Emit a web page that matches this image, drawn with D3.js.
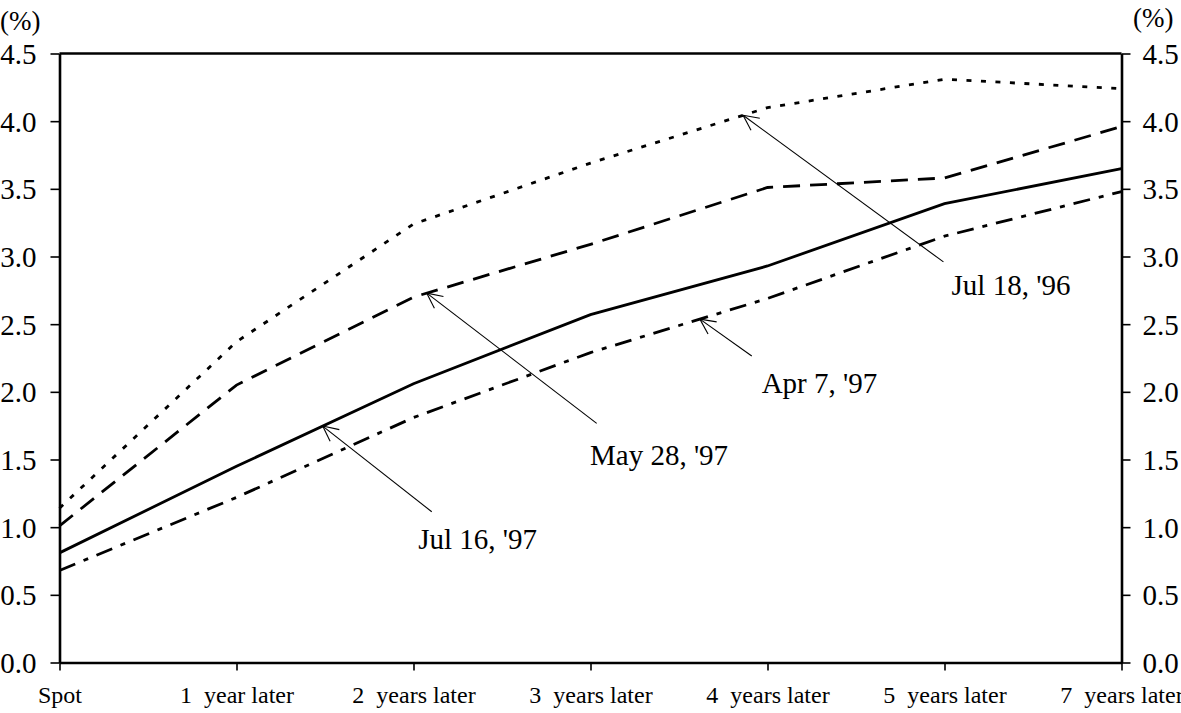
<!DOCTYPE html>
<html>
<head>
<meta charset="utf-8">
<script src="https://cdn.jsdelivr.net/npm/d3@7"></script>
<style>
  body { margin: 0; background: #fff; }
  text { font-family: "Liberation Serif", "Times New Roman", serif; fill: #000; }
</style>
</head>
<body>
<div id="chart"></div>
<script>
// categories along the x axis
const categories = ["Spot", "1  year later", "2  years later", "3  years later", "4  years later", "5  years later", "7  years later"]
const yTicks = [0, 0.5, 1.0, 1.5, 2.0, 2.5, 3.0, 3.5, 4.0, 4.5]

// forward rates (%)
const jul18_96 = [1.14, 2.37, 3.24, 3.69, 4.10, 4.31, 4.24]
const may28_97 = [1.01, 2.05, 2.70, 3.09, 3.51, 3.58, 3.96]
const jul16_97 = [0.81, 1.45, 2.06, 2.57, 2.93, 3.39, 3.65]
const apr7_97  = [0.68, 1.22, 1.81, 2.29, 2.69, 3.15, 3.48]

const seriesNames = ["Jul 18, '96", "May 28, '97", "Jul 16, '97", "Apr 7, '97"]
const seriesValues = [jul18_96, may28_97, jul16_97, apr7_97]
const seriesDash = ["5,9.5", "17,10", null, "17,9,5,9"]

// annotation: tip = index along series, tail/label in [index, value]
const annTip   = [3.862, 2.075, 1.487, 3.618]
const annTail  = [[4.994, 2.96], [3.035, 1.767], [2.103, 1.114], [3.911, 2.265]]
const annLabel = [[5.04, 2.716], [2.997, 1.459], [2.027, 0.836], [3.967, 1.989]]

const W = 1181, H = 713
const margin = { top: 53.5, right: 59.5, bottom: 50.5, left: 59.5 }
const width = W - margin.left - margin.right
const height = H - margin.top - margin.bottom

var svg = d3.select("#chart").append("svg")
      .attr("width", W)
      .attr("height", H)

var g = svg.append("g")
      .attr("transform", "translate(" + margin.left + "," + margin.top + ")")

const xScale = d3.scaleLinear().domain([0, categories.length - 1]).range([0, width])
const yScale = d3.scaleLinear().domain([0, 4.5]).range([height, 0])

// axes
const xAxis = g.append("g")
      .attr("transform", "translate(0," + height + ")")
      .call(d3.axisBottom(xScale)
            .tickValues(d3.range(categories.length))
            .tickFormat(i => categories[i])
            .tickSize(8).tickSizeOuter(0).tickPadding(15))
xAxis.selectAll("text").style("font-size", "24px").style("white-space", "pre")

const yLeft = g.append("g")
      .call(d3.axisLeft(yScale).tickValues(yTicks).tickFormat(d3.format(".1f"))
            .tickSize(9).tickSizeOuter(0).tickPadding(14))
const yRight = g.append("g")
      .attr("transform", "translate(" + width + ",0)")
      .call(d3.axisRight(yScale).tickValues(yTicks).tickFormat(d3.format(".1f"))
            .tickSize(9).tickSizeOuter(0).tickPadding(12))

for (let ax of [yLeft, yRight]) {
      ax.selectAll("text").style("font-size", "29px").attr("dy", "0.35em")
}
for (let ax of [xAxis, yLeft, yRight]) {
      ax.select(".domain").attr("stroke", "#000").attr("stroke-width", 2.6)
      ax.selectAll(".tick line").attr("stroke", "#000").attr("stroke-width", 1.6)
}

// top border
g.append("line")
      .attr("x1", 0).attr("x2", width)
      .attr("y1", 0).attr("y2", 0)
      .attr("stroke", "#000").attr("stroke-width", 2.6)

// unit labels
svg.append("text").attr("x", 0).attr("y", 30).style("font-size", "27px").text("(%)")
svg.append("text").attr("x", 1133).attr("y", 27).style("font-size", "27px").text("(%)")

// lines
const line = d3.line()
      .x((d, i) => xScale(i))
      .y(d => yScale(d))

seriesValues.forEach((vals, k) => {
      g.append("path")
            .datum(vals)
            .attr("fill", "none")
            .attr("stroke", "#000")
            .attr("stroke-width", 2.8)
            .attr("stroke-dasharray", seriesDash[k])
            .attr("d", line)
})

// annotations with open arrow heads
function valueAt(vals, t) {
      const i = Math.min(Math.floor(t), vals.length - 2)
      return vals[i] + (vals[i + 1] - vals[i]) * (t - i)
}

seriesValues.forEach((vals, k) => {
      const tx = xScale(annTip[k]), ty = yScale(valueAt(vals, annTip[k]))
      const sx = xScale(annTail[k][0]), sy = yScale(annTail[k][1])
      const ang = Math.atan2(sy - ty, sx - tx)
      const len = 17, spread = 26 * Math.PI / 180
      const a = g.append("g").attr("stroke", "#000").attr("stroke-width", 1.1).attr("fill", "none")
      a.append("line").attr("x1", sx).attr("y1", sy).attr("x2", tx).attr("y2", ty)
      for (let s of [-1, 1]) {
            a.append("line")
                  .attr("x1", tx).attr("y1", ty)
                  .attr("x2", tx + len * Math.cos(ang + s * spread))
                  .attr("y2", ty + len * Math.sin(ang + s * spread))
      }
      g.append("text")
            .attr("x", xScale(annLabel[k][0]))
            .attr("y", yScale(annLabel[k][1]))
            .style("font-size", "29px")
            .text(seriesNames[k])
})
</script>
</body>
</html>
